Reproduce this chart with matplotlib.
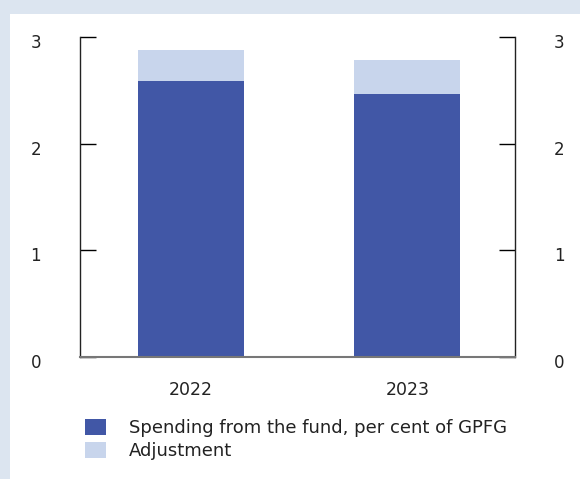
import numpy as np
import matplotlib.pyplot as plt
import matplotlib.transforms as mtransforms
from matplotlib.patches import Rectangle

# data
years = ["2022", "2023"]
spending = [2.59, 2.47]
adjustment = [0.29, 0.31]
yticks = [0, 1, 2, 3]

dark = "#4157a6"
light = "#c8d5ec"

plt.rcParams['font.family'] = ['DejaVu Sans']

fig = plt.figure(figsize=(5.8, 4.79), dpi=100)
fig.patch.set_facecolor("#dce5f0")
# white panel
fig.patches.append(Rectangle((10/580, 0), 1, 1 - 14/479, transform=fig.transFigure,
                             facecolor="white", edgecolor="none", zorder=-10))

ax = fig.add_axes([80/580, 1 - 357/479, (515-80)/580, (357-37)/479])
ax.set_facecolor("none")
x = np.arange(len(years))
ax.bar(x, spending, width=0.49, color=dark, label="Spending from the fund, per cent of GPFG")
ax.bar(x, adjustment, width=0.49, bottom=spending, color=light, label="Adjustment")

ax.set_xlim(-0.512, 1.497)
ax.set_ylim(0, 3)
ax.set_yticks(yticks)
ax.set_xticks(x)
ax.set_xticklabels(years, fontsize=12.5, color="#222222")
ax.tick_params(axis="x", length=0, pad=17)
ax.tick_params(axis="y", direction="in", length=11.5, width=1, labelsize=12,
               labelcolor="#222222", pad=28)
ax.yaxis.set_ticks_position("both")
ax.tick_params(axis="y", labelright=True, labelleft=True)
# labels sit a little below their ticks
shift = mtransforms.ScaledTranslation(0, -4/100, fig.dpi_scale_trans)
for t in ax.yaxis.get_major_ticks():
    t.label1.set_transform(t.label1.get_transform() + shift)
    t.label2.set_transform(t.label2.get_transform() + shift)
for s in ["left", "right"]:
    ax.spines[s].set_color("#222222")
    ax.spines[s].set_linewidth(1)
ax.spines["top"].set_visible(False)
ax.spines["bottom"].set_color("#777777")
ax.spines["bottom"].set_linewidth(1.5)

leg = ax.legend(loc="upper left", bbox_to_anchor=(85/580, 1 - 419/479), bbox_transform=fig.transFigure,
                frameon=False, fontsize=13, handlelength=1.15, handleheight=0.95,
                handletextpad=1.3, labelspacing=0.3, borderaxespad=0, borderpad=0)
for txt in leg.get_texts():
    txt.set_color("#222222")

fig.savefig("out.png", dpi=100, facecolor=fig.get_facecolor())
